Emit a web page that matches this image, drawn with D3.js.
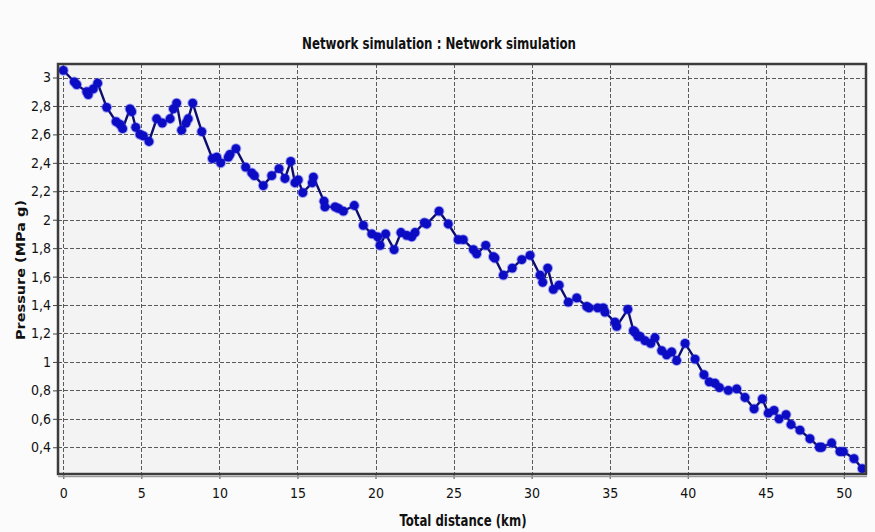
<!DOCTYPE html>
<html>
<head>
<meta charset="utf-8">
<script src="https://cdn.jsdelivr.net/npm/d3@7"></script>
<style>
  html, body { margin: 0; padding: 0; background: #fbfbfb; }
  svg { display: block; }
</style>
</head>
<body>
<svg id="chart" width="875" height="532"></svg>
<script>
// Pressure profile along the pipeline network
const titleText = "Network simulation : Network simulation";
const xLabel = "Total distance (km)";
const yLabel = "Pressure (MPa g)";

const distanceKm = [
  0.0, 0.70, 0.86, 1.50, 1.60, 1.92, 2.20, 2.78, 3.38, 3.63, 3.80, 4.27, 4.38, 4.64, 4.91, 5.13,
  5.49, 5.98, 6.34, 6.84, 7.05, 7.26, 7.58, 7.86, 8.00, 8.29, 8.87, 9.55, 9.83, 10.08, 10.57,
  10.68, 11.06, 11.68, 12.07, 12.24, 12.81, 13.35, 13.82, 14.20, 14.57, 14.84, 15.05, 15.34,
  15.95, 16.02, 16.70, 16.76, 17.41, 17.62, 17.94, 18.64, 19.22, 19.76, 20.14, 20.29, 20.65,
  21.19, 21.63, 22.00, 22.32, 22.53, 23.13, 23.28, 24.07, 24.66, 25.30, 25.62, 26.27, 26.48,
  27.06, 27.55, 27.65, 28.19, 28.76, 29.37, 29.90, 30.54, 30.71, 31.03, 31.39, 31.76, 32.35,
  32.89, 33.53, 33.68, 34.23, 34.59, 34.70, 35.34, 35.45, 36.16, 36.52, 36.62, 36.80, 36.94,
  37.26, 37.63, 37.90, 38.33, 38.65, 38.97, 39.29, 39.83, 40.47, 41.04, 41.38, 41.75, 42.03,
  42.60, 43.14, 43.67, 44.25, 44.78, 45.16, 45.53, 45.85, 46.30, 46.62, 47.19, 47.83, 48.43,
  48.58, 49.22, 49.75, 49.97, 50.65, 51.18
];
const pressureMPa = [
  3.05, 2.97, 2.95, 2.90, 2.88, 2.92, 2.96, 2.79, 2.69, 2.67, 2.64, 2.78, 2.76, 2.65, 2.60, 2.59,
  2.55, 2.71, 2.68, 2.71, 2.78, 2.82, 2.63, 2.68, 2.71, 2.82, 2.62, 2.43, 2.44, 2.40, 2.44,
  2.46, 2.50, 2.37, 2.33, 2.31, 2.24, 2.31, 2.36, 2.29, 2.41, 2.26, 2.28, 2.19,
  2.26, 2.30, 2.13, 2.09, 2.09, 2.08, 2.06, 2.10, 1.96, 1.90, 1.88, 1.82, 1.90,
  1.79, 1.91, 1.89, 1.88, 1.91, 1.98, 1.97, 2.06, 1.97, 1.86, 1.86, 1.79, 1.76,
  1.82, 1.74, 1.73, 1.61, 1.66, 1.72, 1.75, 1.61, 1.56, 1.66, 1.51, 1.54, 1.42,
  1.45, 1.39, 1.38, 1.38, 1.38, 1.35, 1.28, 1.25, 1.37, 1.22, 1.21, 1.18, 1.18,
  1.15, 1.13, 1.17, 1.08, 1.05, 1.07, 1.01, 1.13, 1.02, 0.91, 0.86, 0.85, 0.82,
  0.80, 0.81, 0.75, 0.67, 0.74, 0.64, 0.66, 0.60, 0.63, 0.56, 0.52, 0.46, 0.40,
  0.40, 0.43, 0.37, 0.37, 0.32, 0.25
];
const xTicks = [0, 5, 10, 15, 20, 25, 30, 35, 40, 45, 50];
const yTicks = [0.4, 0.6, 0.8, 1.0, 1.2, 1.4, 1.6, 1.8, 2.0, 2.2, 2.4, 2.6, 2.8, 3.0];

const points = distanceKm.map((d, i) => ({ x: d, y: pressureMPa[i] }));

const svg = d3.select("#chart");
const plot = { left: 58, top: 64, right: 866, bottom: 474 };

const x = d3.scaleLinear().domain([-0.34, 51.42]).range([plot.left, plot.right]);
const y = d3.scaleLinear().domain([0.212, 3.095]).range([plot.bottom, plot.top]);

const labelFont = "'DejaVu Sans Condensed', 'Liberation Sans Narrow', sans-serif";

// plot background
svg.append("rect")
  .attr("x", plot.left).attr("y", plot.top)
  .attr("width", plot.right - plot.left).attr("height", plot.bottom - plot.top)
  .attr("fill", "#f3f3f3");

// dashed grid
const grid = svg.append("g").attr("stroke", "#5a5a5a").attr("stroke-width", 1)
  .attr("stroke-dasharray", "4,2").attr("shape-rendering", "crispEdges");
grid.selectAll("line.v").data(xTicks).join("line").attr("class", "v")
  .attr("x1", d => Math.round(x(d)) + 0.5).attr("x2", d => Math.round(x(d)) + 0.5)
  .attr("y1", plot.top).attr("y2", plot.bottom);
grid.selectAll("line.h").data(yTicks).join("line").attr("class", "h")
  .attr("y1", d => Math.round(y(d)) + 0.5).attr("y2", d => Math.round(y(d)) + 0.5)
  .attr("x1", plot.left).attr("x2", plot.right);

// axes
const fmt = d => d3.format("~g")(+d.toFixed(1)).replace(".", ",");
const yAxis = d3.axisLeft(y).tickValues(yTicks).tickFormat(fmt).tickSize(5).tickPadding(2);
const xAxis = d3.axisBottom(x).tickValues(xTicks).tickFormat(d3.format("d")).tickSize(5).tickPadding(9);

const gy = svg.append("g").attr("transform", `translate(${plot.left},0)`).call(yAxis);
const gx = svg.append("g").attr("transform", `translate(0,${plot.bottom})`).call(xAxis);
[gy, gx].forEach(g => {
  g.select(".domain").remove();
  g.selectAll(".tick line").attr("stroke", "#444");
  g.selectAll(".tick text").attr("fill", "#111")
    .style("font-family", labelFont).style("font-size", "14px");
});

// series line and markers
const line = d3.line().x(d => x(d.x)).y(d => y(d.y));
svg.append("clipPath").attr("id", "plotClip").append("rect")
  .attr("x", plot.left).attr("y", plot.top)
  .attr("width", plot.right - plot.left).attr("height", plot.bottom - plot.top);
const series = svg.append("g").attr("clip-path", "url(#plotClip)");
series.append("path").datum(points)
  .attr("fill", "none").attr("stroke", "#0d0d70").attr("stroke-width", 2.4)
  .attr("d", line);
series.selectAll("circle.halo").data(points).join("circle").attr("class", "halo")
  .attr("cx", d => x(d.x)).attr("cy", d => y(d.y)).attr("r", 5.4)
  .attr("fill", "#3a3ae8").attr("opacity", 0.45);
series.selectAll("circle.pt").data(points).join("circle").attr("class", "pt")
  .attr("cx", d => x(d.x)).attr("cy", d => y(d.y)).attr("r", 4.4)
  .attr("fill", "#0c0cc4");

// frame
svg.append("rect")
  .attr("x", plot.left).attr("y", plot.top)
  .attr("width", plot.right - plot.left).attr("height", plot.bottom - plot.top)
  .attr("fill", "none").attr("stroke", "#3c3c3c").attr("stroke-width", 2.5);
svg.append("line")
  .attr("x1", plot.left).attr("x2", plot.right + 1)
  .attr("y1", plot.bottom + 2.5).attr("y2", plot.bottom + 2.5)
  .attr("stroke", "#9a9a9a").attr("stroke-width", 1.5);

// titles
svg.append("text").attr("x", 439).attr("y", 49).attr("text-anchor", "middle")
  .attr("textLength", 274).attr("lengthAdjust", "spacingAndGlyphs")
  .style("font-family", labelFont).style("font-size", "15px").style("font-weight", "bold")
  .attr("fill", "#111").text(titleText);
svg.append("text").attr("x", 463).attr("y", 526).attr("text-anchor", "middle")
  .attr("textLength", 127).attr("lengthAdjust", "spacingAndGlyphs")
  .style("font-family", labelFont).style("font-size", "15px").style("font-weight", "bold")
  .attr("fill", "#111").text(xLabel);
svg.append("text").attr("transform", "translate(25,270) rotate(-90)").attr("text-anchor", "middle")
  .attr("textLength", 140).attr("lengthAdjust", "spacingAndGlyphs")
  .style("font-family", "'DejaVu Sans', 'Noto Sans', sans-serif").style("font-size", "13px").style("font-weight", "bold")
  .attr("fill", "#111").text(yLabel);
</script>
</body>
</html>
